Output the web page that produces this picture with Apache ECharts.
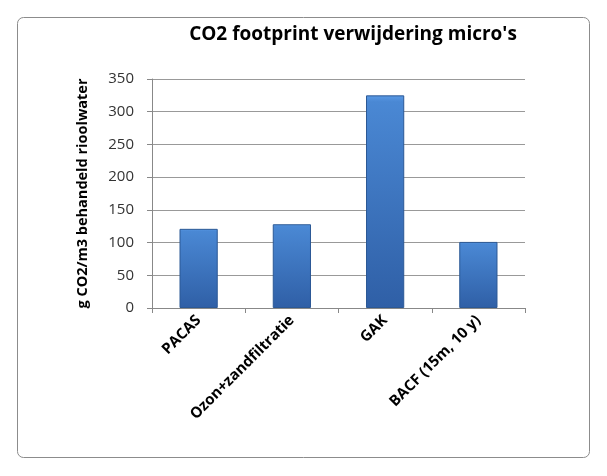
<!DOCTYPE html>
<html><head><meta charset="utf-8">
<script src="https://cdn.jsdelivr.net/npm/echarts@6/dist/echarts.min.js"></script>
<style>html,body{margin:0;padding:0;background:#fff}#c{width:607px;height:476px}</style>
</head><body><div id="c"></div>
<script>
const categories = ["PACAS", "Ozon+zandfiltratie", "GAK", "BACF (15m, 10 y)"];
const values = [121, 128, 325, 101];
const yTicks = [0, 50, 100, 150, 200, 250, 300, 350];

const chart = echarts.init(document.getElementById('c'));
const font = '"Open Sans", sans-serif';
chart.setOption({
  animation: false,
  backgroundColor: '#fff',
  graphic: [{
    type: 'rect', shape: {x: 17.5, y: 17.5, width: 572, height: 440, r: 6},
    style: {fill: 'none', stroke: '#8c8c8c', lineWidth: 1}, silent: true
  }],
  title: {
    text: "CO2 footprint verwijdering micro's",
    left: 348, top: 20, textAlign: 'center',
    textStyle: {fontFamily: font, fontWeight: 'bold', fontSize: 19, color: '#000'}
  },
  grid: {left: 152, right: 82, top: 79, bottom: 168},
  xAxis: {
    type: 'category', data: categories,
    axisLine: {lineStyle: {color: '#888'}},
    axisTick: {show: true, length: 5, alignWithLabel: false, lineStyle: {color: '#888'}},
    axisLabel: {rotate: 45, interval: 0, margin: 10, fontFamily: font, fontWeight: 'bold', fontSize: 15, color: '#000'}
  },
  yAxis: {
    type: 'value', min: 0, max: 350, interval: 50,
    name: 'g CO2/m3 behandeld rioolwater', nameLocation: 'middle', nameGap: 62,
    nameTextStyle: {fontFamily: font, fontWeight: 'bold', fontSize: 14.5, color: '#000'},
    axisLine: {show: true, lineStyle: {color: '#888'}},
    axisTick: {show: true, length: 5, lineStyle: {color: '#888'}},
    axisLabel: {fontFamily: font, fontSize: 15, color: '#333', margin: 18,
      formatter: v => yTicks.includes(v) ? String(v) : ''},
    splitLine: {lineStyle: {color: '#999'}}
  },
  series: [{
    type: 'bar', data: values, barWidth: '41%',
    itemStyle: {
      color: new echarts.graphic.LinearGradient(0, 0, 0, 1, [
        {offset: 0, color: '#5a9ae6'},
        {offset: 0.03, color: '#4a88d4'},
        {offset: 1, color: '#2f5fa6'}
      ]),
      borderColor: '#2b5895', borderWidth: 1
    }
  }]
});
</script></body></html>
